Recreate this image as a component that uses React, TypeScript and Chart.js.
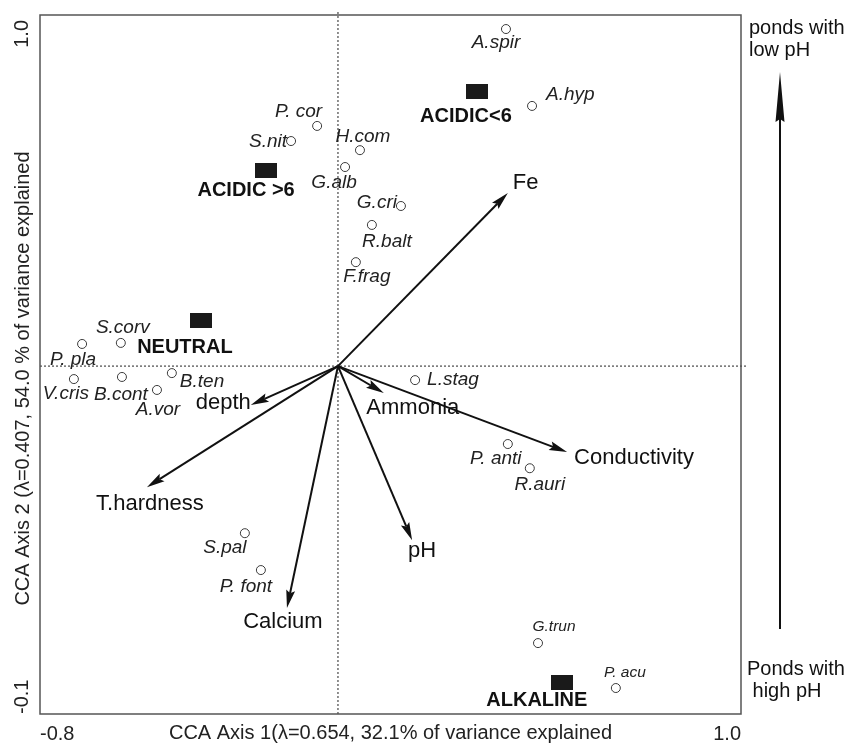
import React, { useEffect, useRef } from "react";
import { Chart, registerables } from "chart.js";
Chart.register(...registerables);

// ---- axis extents (CCA score units) and tick labels ----
const X_MIN = -0.8;
const X_MAX = 1.082;
const Y_MIN = -0.991;
const Y_MAX = 1.0;
const xTickValues = [X_MIN, X_MAX];
const xTickLabels = ["-0.8", "1.0"];
const yTickLabels = ["-0.1", "1.0"];
const xAxisTitle = "CCA Axis 1(\u03bb=0.654, 32.1% of variance explained";
const yAxisTitle = "CCA Axis 2 (\u03bb=0.407, 54.0 % of variance explained";

// ---- species scores ----
const speciesNames = [
  "A.spir", "A.hyp", "P. cor", "S.nit", "H.com", "G.alb", "G.cri", "R.balt", "F.frag",
  "S.corv", "P. pla", "V.cris", "B.cont", "A.vor", "B.ten", "L.stag", "P. anti", "R.auri",
  "S.pal", "P. font", "G.trun", "P. acu",
];
const speciesX = [
  0.451, 0.521, -0.056, -0.126, 0.059, 0.019, 0.169, 0.091, 0.048,
  -0.583, -0.687, -0.709, -0.58, -0.486, -0.446, 0.207, 0.456, 0.515,
  -0.25, -0.207, 0.537, 0.746,
];
const speciesY = [
  0.96, 0.741, 0.684, 0.641, 0.615, 0.567, 0.456, 0.402, 0.296,
  0.066, 0.063, -0.037, -0.031, -0.068, -0.02, -0.04, -0.222, -0.291,
  -0.476, -0.581, -0.789, -0.917,
];

// ---- pond group centroids ----
const groupNames = ["ACIDIC<6", "ACIDIC >6", "NEUTRAL", "ALKALINE"];
const groupX = [0.373, -0.193, -0.368, 0.601];
const groupY = [0.781, 0.558, 0.131, -0.9];

// ---- environmental variable vectors ----
const envNames = ["Fe", "Conductivity", "Ammonia", "pH", "Calcium", "T.hardness", "depth"];
const envX = [0.456, 0.615, 0.123, 0.199, -0.137, -0.513, -0.234];
const envY = [0.493, -0.245, -0.077, -0.496, -0.689, -0.345, -0.111];

// ---- gradient annotation text ----
const gradientTopText = ["ponds with", "low pH"];
const gradientBottomText = ["Ponds with", " high pH"];

// ---- label layout (pixel offsets, alignment) ----
type Lay = [number, number, CanvasTextAlign, number?];
const speciesLabelLayout: Lay[] = [
  [-10, 14, "center"], [14, -11, "left"], [5, -14, "right"], [-4, 1, "right"],
  [3, -13, "center"], [-11, 16, "center"], [-4, -3, "right"], [15, 17, "center"],
  [11, 15, "center"], [2, -15, "center"], [-9, 16, "center"], [-8, 15, "center"],
  [-1, 18, "center"], [1, 20, "center"], [8, 9, "left"], [12, 0, "left"],
  [-12, 15, "center"], [10, 16, "center"], [-20, 15, "center"], [-15, 17, "center"],
  [16, -16, "center", 15.5], [9, -15, "center", 15.5],
];
const groupLabelLayout: Lay[] = [
  [-11, 25, "center"], [-20, 20, "center"], [-16, 27, "center"], [-25, 18, "center"],
];
const envLabelLayout: Lay[] = [
  [5, -10, "left"], [7, 6, "left"], [29, 15, "center"], [10, 11, "center"],
  [-4, 14, "center"], [3, 17, "center"], [0, -2, "right"],
];

const FONT = "'Liberation Sans', Arial, Helvetica, sans-serif";

function drawArrow(
  ctx: CanvasRenderingContext2D,
  x0: number, y0: number, x1: number, y1: number,
  len: number, hw: number, lw: number
) {
  const a = Math.atan2(y1 - y0, x1 - x0);
  const c = Math.cos(a), s = Math.sin(a);
  const bx = x1 - len * c, by = y1 - len * s;
  const nx = x1 - (len - 3) * c, ny = y1 - (len - 3) * s;
  ctx.lineWidth = lw;
  ctx.beginPath();
  ctx.moveTo(x0, y0);
  ctx.lineTo(nx, ny);
  ctx.stroke();
  ctx.beginPath();
  ctx.moveTo(x1, y1);
  ctx.lineTo(bx - hw * s, by + hw * c);
  ctx.lineTo(nx, ny);
  ctx.lineTo(bx + hw * s, by - hw * c);
  ctx.closePath();
  ctx.fill();
}

const biplotPlugin = {
  id: "biplot",
  beforeDatasetsDraw(chart: any) {
    const { ctx, chartArea } = chart;
    const xs = chart.scales.x, ys = chart.scales.y;
    const ox = xs.getPixelForValue(0), oy = ys.getPixelForValue(0);
    ctx.save();
    ctx.strokeStyle = "#222";
    ctx.lineWidth = 1;
    ctx.setLineDash([2, 2]);
    ctx.beginPath();
    ctx.moveTo(ox, chartArea.top - 3);
    ctx.lineTo(ox, chartArea.bottom);
    ctx.moveTo(chartArea.left, oy);
    ctx.lineTo(chartArea.right + 6, oy);
    ctx.stroke();
    ctx.setLineDash([]);
    // frame
    ctx.strokeStyle = "#555";
    ctx.lineWidth = 1.5;
    ctx.strokeRect(chartArea.left, chartArea.top, chartArea.right - chartArea.left, chartArea.bottom - chartArea.top);
    // environmental arrows
    ctx.strokeStyle = "#111";
    ctx.fillStyle = "#111";
    for (let i = 0; i < envNames.length; i++) {
      const tx = xs.getPixelForValue(envX[i]);
      const ty = ys.getPixelForValue(envY[i]);
      drawArrow(ctx, ox, oy, tx, ty, 18, 4.5, 2);
    }
    ctx.restore();
  },
  afterDatasetsDraw(chart: any) {
    const { ctx, chartArea } = chart;
    const xs = chart.scales.x, ys = chart.scales.y;
    ctx.save();
    ctx.textBaseline = "middle";
    // species labels
    const spMeta = chart.getDatasetMeta(0);
    ctx.fillStyle = "#222";
    spMeta.data.forEach((pt: any, i: number) => {
      const [dx, dy, al, sz] = speciesLabelLayout[i];
      ctx.font = `italic ${sz || 19}px ${FONT}`;
      ctx.textAlign = al;
      ctx.fillText(speciesNames[i], pt.x + dx, pt.y + dy);
    });
    // group labels
    const gMeta = chart.getDatasetMeta(1);
    ctx.fillStyle = "#111";
    ctx.font = `bold 20px ${FONT}`;
    gMeta.data.forEach((pt: any, i: number) => {
      const [dx, dy, al] = groupLabelLayout[i];
      ctx.textAlign = al;
      ctx.fillText(groupNames[i], pt.x + dx, pt.y + dy);
    });
    // environmental labels
    ctx.font = `22px ${FONT}`;
    for (let i = 0; i < envNames.length; i++) {
      const [dx, dy, al] = envLabelLayout[i];
      ctx.textAlign = al;
      ctx.fillText(envNames[i], xs.getPixelForValue(envX[i]) + dx, ys.getPixelForValue(envY[i]) + dy);
    }
    // axis titles and y tick labels
    ctx.fillStyle = "#222";
    ctx.font = `20px ${FONT}`;
    ctx.textAlign = "center";
    ctx.fillText(xAxisTitle, (chartArea.left + chartArea.right) / 2, chartArea.bottom + 19);
    const yc = (chartArea.top + chartArea.bottom) / 2 + 14;
    ctx.save();
    ctx.translate(chartArea.left - 17, yc);
    ctx.rotate(-Math.PI / 2);
    ctx.fillText(yAxisTitle, 0, 0);
    ctx.restore();
    ctx.save();
    ctx.translate(chartArea.left - 18, ys.getPixelForValue(Y_MIN));
    ctx.rotate(-Math.PI / 2);
    ctx.textAlign = "left";
    ctx.fillText(yTickLabels[0], 0, 0);
    ctx.restore();
    ctx.save();
    ctx.translate(chartArea.left - 18, ys.getPixelForValue(Y_MAX) + 5);
    ctx.rotate(-Math.PI / 2);
    ctx.textAlign = "right";
    ctx.fillText(yTickLabels[1], 0, 0);
    ctx.restore();
    // gradient annotation on the right
    const rx = chartArea.right;
    ctx.fillStyle = "#111";
    ctx.textAlign = "left";
    ctx.font = `20px ${FONT}`;
    ctx.fillText(gradientTopText[0], rx + 8, 28);
    ctx.fillText(gradientTopText[1], rx + 8, 50);
    ctx.fillText(gradientBottomText[0], rx + 6, chartArea.bottom - 45);
    ctx.fillText(gradientBottomText[1], rx + 6, chartArea.bottom - 23);
    ctx.strokeStyle = "#111";
    drawArrow(ctx, rx + 39, chartArea.bottom - 85, rx + 39, 72, 50, 4.5, 2);
    ctx.restore();
  },
};

function makeRectStyle(): HTMLCanvasElement {
  const c = document.createElement("canvas");
  c.width = 22;
  c.height = 15;
  const g = c.getContext("2d")!;
  g.fillStyle = "#1a1a1a";
  g.fillRect(0, 0, 22, 15);
  return c;
}

export default function App() {
  const ref = useRef<HTMLCanvasElement | null>(null);
  useEffect(() => {
    if (!ref.current) return;
    const rectStyle = makeRectStyle();
    const chart = new Chart(ref.current, {
      type: "scatter",
      data: {
        datasets: [
          {
            label: "species",
            data: speciesX.map((x, i) => ({ x, y: speciesY[i] })),
            pointStyle: "circle",
            pointRadius: 4.5,
            pointBorderWidth: 1,
            pointBorderColor: "#3a3a3a",
            pointBackgroundColor: "rgba(255,255,255,0)",
          },
          {
            label: "groups",
            data: groupX.map((x, i) => ({ x, y: groupY[i] })),
            pointStyle: rectStyle as any,
            pointRadius: 8,
          },
        ],
      },
      options: {
        animation: false,
        responsive: true,
        maintainAspectRatio: false,
        layout: { padding: { left: 0, top: 15, right: 107, bottom: 0 } },
        plugins: { legend: { display: false }, tooltip: { enabled: false }, title: { display: false } },
        events: [],
        scales: {
          x: {
            type: "linear",
            min: X_MIN,
            max: X_MAX,
            grid: { display: false, drawTicks: false },
            border: { display: false },
            afterBuildTicks: (scale: any) => {
              scale.ticks = xTickValues.map((v) => ({ value: v }));
            },
            afterFit: (scale: any) => {
              scale.height = 30;
            },
            ticks: {
              align: "inner",
              padding: 8,
              color: "#222",
              font: { family: FONT, size: 20 },
              maxRotation: 0,
              autoSkip: false,
              callback: (_v: any, i: number) => xTickLabels[i],
            },
          },
          y: {
            type: "linear",
            min: Y_MIN,
            max: Y_MAX,
            grid: { display: false, drawTicks: false },
            border: { display: false },
            ticks: { display: false },
            afterFit: (scale: any) => {
              scale.width = 40;
            },
          },
        },
      },
      plugins: [biplotPlugin],
    });
    return () => chart.destroy();
  }, []);
  return (
    <div style={{ position: "absolute", left: 0, top: 0, width: 848, height: 744, background: "#fff" }}>
      <canvas ref={ref} />
    </div>
  );
}
